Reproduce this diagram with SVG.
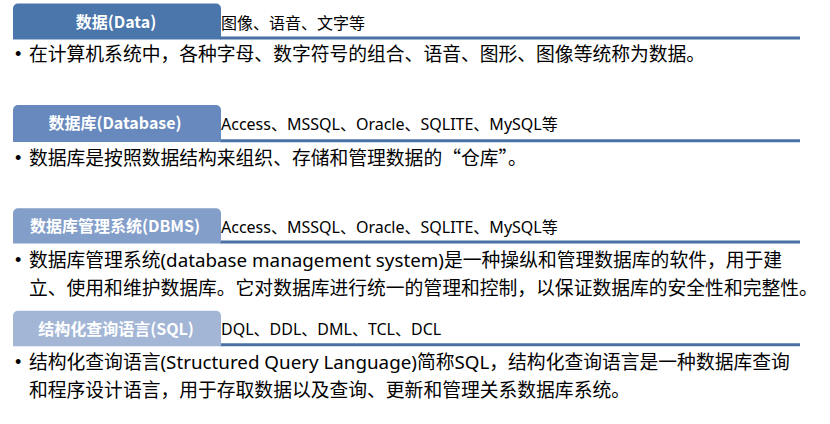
<svg xmlns="http://www.w3.org/2000/svg" width="830" height="424" viewBox="0 0 830 424">
<style>
.tabtxt{font-family:"Noto Sans CJK SC","Noto Sans",sans-serif;font-size:16px;font-weight:bold;fill:#ffffff;text-anchor:middle}
.side{font-family:"Noto Sans","Noto Sans CJK SC",sans-serif;font-size:16px;fill:#000000}
.body{font-family:"Noto Sans CJK SC","Noto Sans",sans-serif;font-size:18.8px;fill:#000000}
.lat{font-family:"Noto Sans",sans-serif}
.bul{font-family:"Liberation Sans",sans-serif;font-size:18px;fill:#000000}
.rule{stroke:#4a70a6;stroke-width:3;fill:none}
</style>
<rect width="830" height="424" fill="#ffffff"/>
<g id="connectors">
<line class="rule" x1="220" y1="38" x2="800" y2="38"/>
<line class="rule" x1="220" y1="140.7" x2="800" y2="140.7"/>
<line class="rule" x1="220" y1="242" x2="800" y2="242"/>
<line class="rule" x1="220" y1="344.7" x2="800" y2="344.7"/>
</g>
<g id="data">
<path d="M13,39.5 V8.5 A5,5 0 0 1 18,3.5 H216 A5,5 0 0 1 221,8.5 V39.5 Z" fill="#4a76ac"/>
<text class="tabtxt" x="116" y="27.5">数据(Data)</text>
<text class="side" x="221" y="28.5">图像、语音、文字等</text>
<text class="bul" x="15" y="60">•</text>
<text class="body" x="29" y="61">在计算机系统中，各种字母、数字符号的组合、语音、图形、图像等统称为数据。</text>
</g>
<g id="database">
<path d="M13,142 V110 A5,5 0 0 1 18,105 H216 A5,5 0 0 1 221,110 V142 Z" fill="#6789bd"/>
<text class="tabtxt" x="115" y="129">数据库(Database)</text>
<text class="side" x="221" y="130">Access、MSSQL、Oracle、SQLITE、MySQL等</text>
<text class="bul" x="15" y="163.5">•</text>
<text class="body" x="29" y="164.5">数据库是按照数据结构来组织、存储和管理数据的“仓库”。</text>
</g>
<g id="dbms">
<path d="M13,243.5 V213.3 A5,5 0 0 1 18,208.3 H216 A5,5 0 0 1 221,213.3 V243.5 Z" fill="#839ec9"/>
<text class="tabtxt" x="115" y="232">数据库管理系统(DBMS)</text>
<text class="side" x="221" y="233">Access、MSSQL、Oracle、SQLITE、MySQL等</text>
<text class="bul" x="15" y="266">•</text>
<text class="body" x="29" y="267">数据库管理系统<tspan class="lat">(database management system)</tspan>是一种操纵和管理数据库的软件，用于建</text>
<text class="body" x="29" y="295">立、使用和维护数据库。它对数据库进行统一的管理和控制，以保证数据库的安全性和完整性。</text>
</g>
<g id="sql">
<path d="M13,346.2 V315.7 A5,5 0 0 1 18,310.7 H216 A5,5 0 0 1 221,315.7 V346.2 Z" fill="#a3b6d6"/>
<text class="tabtxt" x="116" y="335">结构化查询语言(SQL)</text>
<text class="side" x="221" y="335">DQL、DDL、DML、TCL、DCL</text>
<text class="bul" x="15" y="368">•</text>
<text class="body" x="29" y="369">结构化查询语言<tspan class="lat">(Structured Query Language)</tspan>简称<tspan class="lat">SQL</tspan>，结构化查询语言是一种数据库查询</text>
<text class="body" x="29" y="397">和程序设计语言，用于存取数据以及查询、更新和管理关系数据库系统。</text>
</g>
</svg>
